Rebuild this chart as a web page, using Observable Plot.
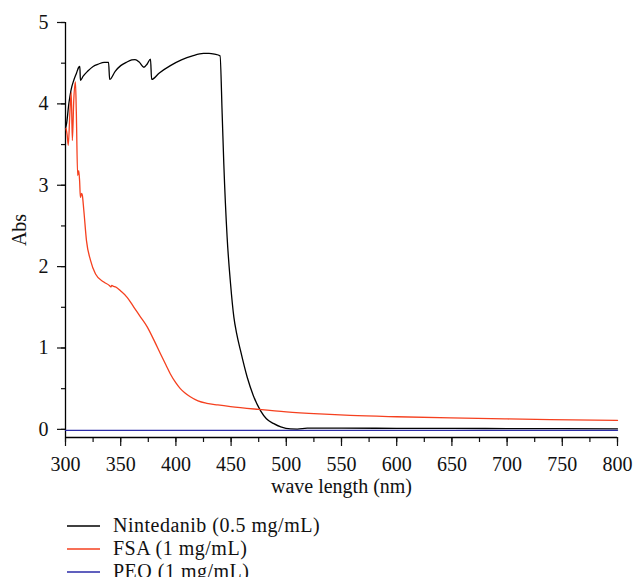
<!DOCTYPE html>
<html>
<head>
<meta charset="utf-8">
<script src="https://cdn.jsdelivr.net/npm/d3@7"></script>
<script src="https://cdn.jsdelivr.net/npm/@observablehq/plot@0.6"></script>
<style>
  html, body { margin: 0; padding: 0; background: #fff; }
  body { width: 635px; height: 577px; overflow: hidden; font-family: "Liberation Serif", "DejaVu Serif", serif; }
  #chart svg, #chart svg text { font-family: "Liberation Serif", "DejaVu Serif", serif !important; }
  #legend { margin-top: 14px; padding-left: 67px; font-size: 20px; letter-spacing: 0.5px; color: #111; }
  .row { display: flex; align-items: center; height: 23px; line-height: 23px; }
  .row svg { margin-right: 13px; }
</style>
</head>
<body>
<div id="chart"></div>
<div id="legend"></div>
<script>
// ---- data ----
const seriesNames = ["Nintedanib (0.5 mg/mL)", "FSA (1 mg/mL)", "PEO (1 mg/mL)"];
const seriesColors = ["#000000", "#f5401f", "#2b2ba8"];

const nintedanibX = [300, 301, 303, 305, 307.5, 310, 312, 313, 313.5, 316, 320, 325, 330, 335, 339, 340,
  345, 350, 355, 360, 363, 367, 371, 374, 377, 378, 385, 395, 405, 415, 425, 430, 435, 440,
  441.9, 443.4, 446.4, 449.5, 452.5, 455, 458.5, 464.6, 470, 476.6, 482, 488.7, 495, 503.8, 510, 519,
  550, 600, 650, 700, 750, 800];
const nintedanibY = [3.70, 3.76, 4.00, 4.17, 4.29, 4.38, 4.45, 4.46, 4.29, 4.34, 4.40, 4.46, 4.49, 4.51, 4.51, 4.30,
  4.40, 4.47, 4.51, 4.54, 4.545, 4.51, 4.45, 4.49, 4.55, 4.30, 4.38, 4.47, 4.54, 4.59, 4.62, 4.62, 4.61, 4.59,
  3.88, 3.26, 2.36, 1.79, 1.38, 1.18, 0.97, 0.64, 0.42, 0.23, 0.13, 0.07, 0.03, 0.005, 0.004, 0.015,
  0.015, 0.013, 0.012, 0.010, 0.008, 0.005];

const fsaX = [300.5, 301.5, 302.5, 304, 305.2, 306.2, 307.5, 309, 309.8, 311, 312, 312.8, 313.5, 314.5, 315.2,
  316.6, 319, 322.6, 327.2, 334.7, 340, 341, 342, 343, 345.3, 350, 356, 362, 368, 374, 380, 386, 391, 395,
  400, 404, 408, 413, 420, 428, 438, 449.5, 475, 500, 530, 558, 600, 649, 700, 739, 800];
const fsaY = [3.70, 3.62, 3.49, 3.90, 4.14, 3.55, 4.05, 4.27, 3.90, 3.12, 3.18, 3.05, 2.85, 2.90, 2.88,
  2.69, 2.32, 2.08, 1.91, 1.81, 1.765, 1.75, 1.77, 1.76, 1.75, 1.70, 1.62, 1.50, 1.38, 1.26, 1.10, 0.93, 0.79, 0.68,
  0.57, 0.50, 0.45, 0.40, 0.35, 0.32, 0.30, 0.28, 0.245, 0.215, 0.19, 0.172, 0.155, 0.14, 0.128, 0.12, 0.11];

const peoX = [300, 400, 500, 600, 700, 800];
const peoY = [-0.012, -0.012, -0.012, -0.012, -0.012, -0.012];

const xMajorTicks = [300, 350, 400, 450, 500, 550, 600, 650, 700, 750, 800];
const xMinorTicks = d3.range(300, 801, 25);
const yMajorTicks = [0, 1, 2, 3, 4, 5];
const yMinorTicks = d3.range(0, 5.01, 0.5);

// ---- build ----
const toRows = (xs, ys, s) => xs.map((x, i) => ({x, y: ys[i], s}));
const seriesData = [
  toRows(nintedanibX, nintedanibY, seriesNames[0]),
  toRows(fsaX, fsaY, seriesNames[1]),
  toRows(peoX, peoY, seriesNames[2])
];

const chart = Plot.plot({
  width: 635,
  height: 500,
  marginLeft: 65,
  marginRight: 18,
  marginTop: 22,
  marginBottom: 63,
  style: {fontFamily: "'Liberation Serif', 'DejaVu Serif', serif", fontSize: "20px", color: "#111", background: "#fff"},
  x: {domain: [300, 800]},
  y: {domain: [-0.1, 5]},
  marks: [
    Plot.axisX({ticks: xMinorTicks, tickSize: 5, tickFormat: () => "", label: null, strokeWidth: 1.2}),
    Plot.axisX({ticks: xMajorTicks, tickSize: 9, tickPadding: 10, tickFormat: d => String(d),
      label: "wave length (nm)", labelAnchor: "center", labelArrow: "none", labelOffset: 55, strokeWidth: 1.2}),
    Plot.axisY({ticks: yMinorTicks, tickSize: 4, tickFormat: () => "", label: null, strokeWidth: 1.2}),
    Plot.axisY({ticks: yMajorTicks, tickSize: 8, tickPadding: 9, tickFormat: d => String(d),
      label: "Abs", labelAnchor: "center", labelArrow: "none", labelOffset: 54, strokeWidth: 1.2}),
    Plot.ruleX([300], {stroke: "#000", strokeWidth: 1.3}),
    Plot.ruleY([-0.1], {stroke: "#000", strokeWidth: 1.3}),
    ...seriesData.map((d, i) => Plot.line(d, {x: "x", y: "y", stroke: seriesColors[i], strokeWidth: 1.3, curve: "monotone-x"}))
  ]
});
document.getElementById("chart").appendChild(chart);

const legend = document.getElementById("legend");
seriesNames.forEach((name, i) => {
  const row = document.createElement("div");
  row.className = "row";
  row.innerHTML = `<svg width="33" height="4"><line x1="0" x2="33" y1="2" y2="2" stroke="${seriesColors[i]}" stroke-width="1.3"/></svg><span>${name}</span>`;
  legend.appendChild(row);
});
</script>
</body>
</html>
